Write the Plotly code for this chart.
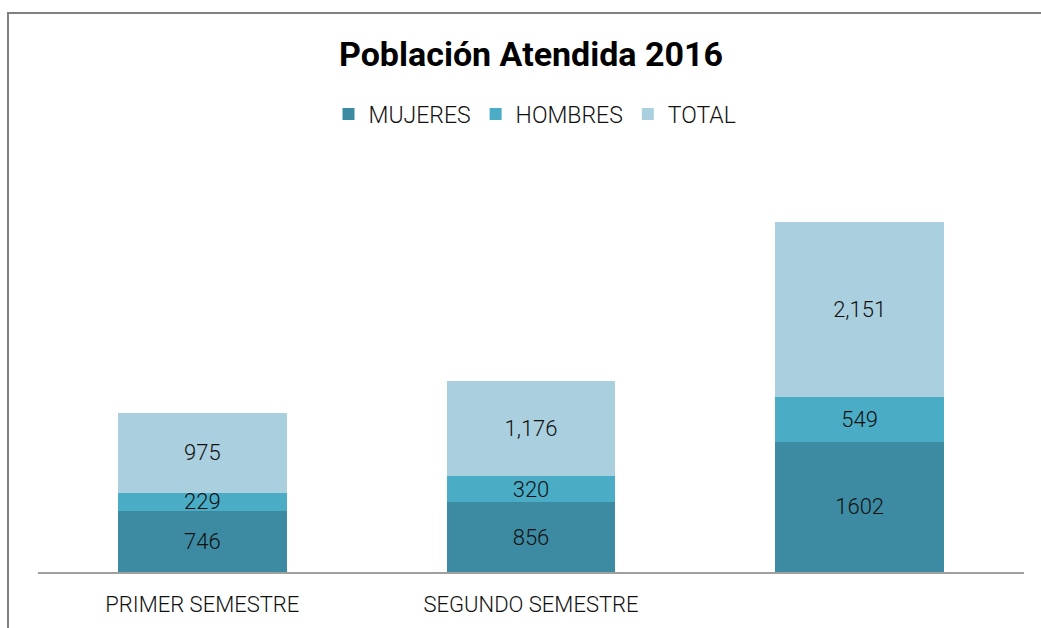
import plotly.graph_objects as go

categories = ["PRIMER SEMESTRE", "SEGUNDO SEMESTRE", " "]
mujeres = [746, 856, 1602]
hombres = [229, 320, 549]
total = [975, 1176, 2151]

colors = {"MUJERES": "#3D8BA3", "HOMBRES": "#4BACC6", "TOTAL": "#AACFDE"}
FONT = "Roboto"
WT = 300

fig = go.Figure()
fig.add_trace(go.Bar(name="MUJERES", x=categories, y=mujeres, marker_color=colors["MUJERES"],
                     texttemplate="%{y}", textposition="inside", insidetextanchor="middle"))
fig.add_trace(go.Bar(name="HOMBRES", x=categories, y=hombres, marker_color=colors["HOMBRES"],
                     texttemplate="%{y}", textposition="inside", insidetextanchor="middle"))
fig.add_trace(go.Bar(name="TOTAL", x=categories, y=total, marker_color=colors["TOTAL"],
                     texttemplate="%{y:,}", textposition="inside", insidetextanchor="middle"))

fig.update_traces(marker_line_width=0,
                  textfont=dict(family=FONT, size=22, color="#111111", weight=WT),
                  textangle=0, constraintext="none")

L, R, T, B = 38, 17, 165, 56
W, H = 1041, 628
pw, ph = W - L - R, H - T - B

fig.update_layout(
    barmode="stack",
    bargap=0.486,
    width=W, height=H,
    margin=dict(l=L, r=R, t=T, b=B, autoexpand=False),
    paper_bgcolor="white", plot_bgcolor="white",
    font=dict(family=FONT, color="#111111", weight=WT),
    title=dict(text="<b>Población Atendida 2016</b>", x=(531 - L) / pw, xref="paper",
               xanchor="center", y=1 - 54 / H, yanchor="middle",
               font=dict(family=FONT, size=34, color="#000000")),
    legend=dict(orientation="h", x=(535 - L) / pw, xanchor="center", y=(572 - 114) / ph,
                yanchor="middle", font=dict(family=FONT, size=23, color="#111111", weight=WT),
                itemwidth=30, traceorder="normal", itemclick=False),
    showlegend=True,
    xaxis=dict(showline=True, linecolor="#A0A0A0", linewidth=2, ticks="", showgrid=False,
               ticklabelstandoff=12,
               tickfont=dict(family=FONT, size=22, color="#111111", weight=WT), fixedrange=True),
    yaxis=dict(range=[0, 5000], visible=False, showgrid=False, fixedrange=True),
    shapes=[dict(type="rect", xref="paper", yref="paper",
                 x0=(8 - L) / pw, x1=(1100 - L) / pw,
                 y0=(572 - 700) / ph, y1=(572 - 13) / ph,
                 line=dict(color="#808080", width=2), fillcolor="rgba(0,0,0,0)", layer="below")],
)

fig.write_html("out.html", config={"displayModeBar": False, "staticPlot": True},
               post_script="document.body.style.margin='0';document.body.style.padding='0';")
